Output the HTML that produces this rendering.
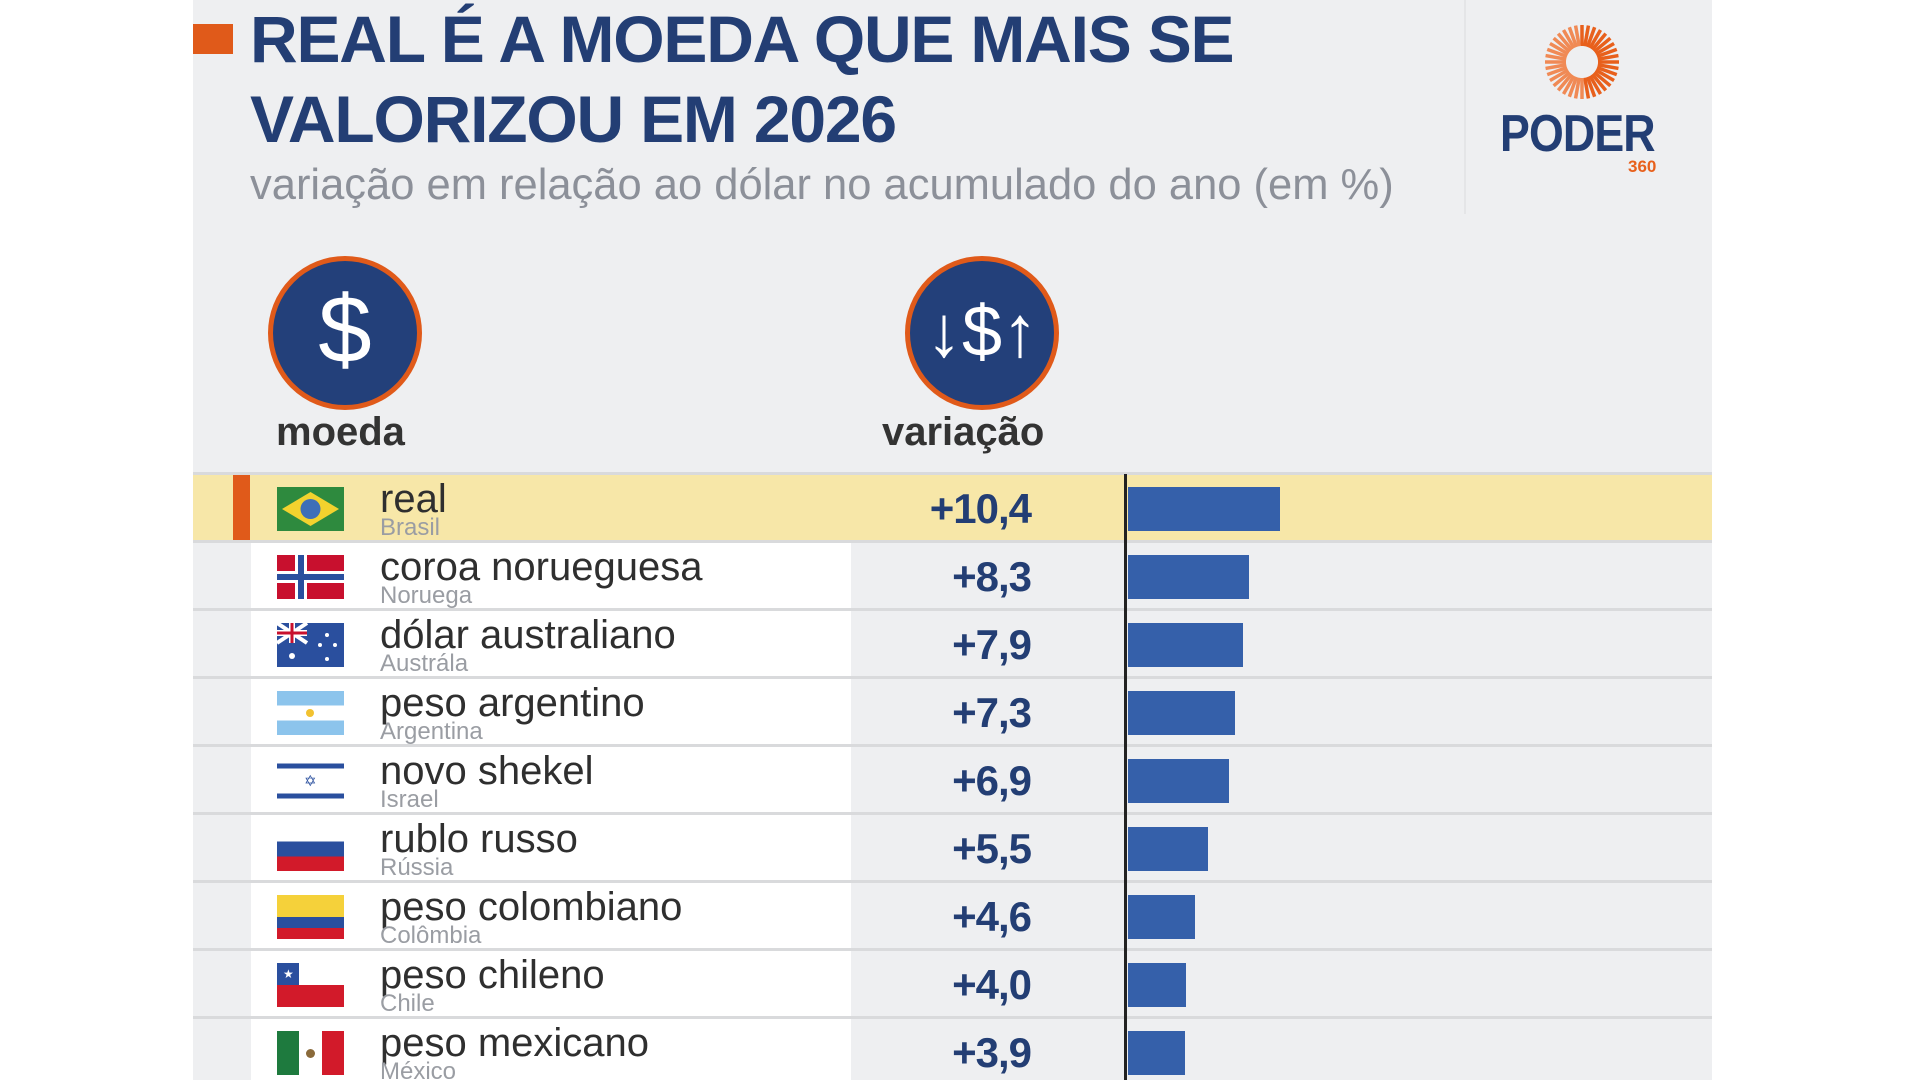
<!DOCTYPE html>
<html><head><meta charset="utf-8"><style>
*{margin:0;padding:0;box-sizing:border-box}
body{width:1920px;height:1080px;background:#fff;position:relative;overflow:hidden;font-family:"Liberation Sans",sans-serif}
.a{position:absolute}
#panel{left:193px;top:0;width:1519px;height:1080px;background:#eeeff1}
.t{color:#233e74;font-weight:bold;font-size:66px;letter-spacing:-1.2px;white-space:nowrap}
.row{position:absolute;left:193px;width:1519px;height:68px}
.wh{position:absolute;left:58px;top:0;width:600px;height:100%;background:#fff}
.sep{position:absolute;left:193px;width:1519px;height:3px;background:#d9dadc}
.name{position:absolute;left:187px;top:2px;font-size:40px;color:#2f2f2f;white-space:nowrap}
.cty{position:absolute;left:187px;top:41px;font-size:24px;color:#9a9da3;white-space:nowrap;line-height:24px}
.val{position:absolute;right:681px;top:10px;font-size:42px;font-weight:bold;color:#233e74;letter-spacing:-1px}
.bar{position:absolute;left:935px;top:12px;height:44px;background:#3560aa}
.flag{position:absolute;left:84px;top:12px;width:67px;height:44px;overflow:hidden}
</style></head><body>
<div id="panel" class="a"></div>
<div class="a" style="left:193px;top:24px;width:40px;height:30px;background:#e05a1a"></div>
<div class="a t" style="left:250px;top:4px;line-height:70px">REAL É A MOEDA QUE MAIS SE</div>
<div class="a t" style="left:250px;top:84px;line-height:70px">VALORIZOU EM 2026</div>
<div class="a" style="left:250px;top:161px;font-size:43.5px;color:#8c9099;white-space:nowrap">variação em relação ao dólar no acumulado do ano (em %)</div>
<div class="a" style="left:1464px;top:0;width:2px;height:214px;background:#e4e5e7"></div>
<svg class="a" style="left:1540px;top:20px" width="84" height="84" viewBox="-42 -42 84 84">
<g id="rays"></g>
</svg>
<script>
var g=document.getElementById('rays');var s='';
for(var i=0;i<36;i++){var c=i<18?'#e8601c':'#f08a55';s+='<line x1="0" y1="-16" x2="0" y2="-37" stroke="'+c+'" stroke-width="3.5" transform="rotate('+(i*10)+')"/>';}
g.innerHTML=s;
</script>
<div class="a" style="left:1500px;top:104px;font-size:52px;font-weight:bold;color:#233e74;letter-spacing:-1px;transform:scaleX(0.86);transform-origin:left top">PODER</div>
<div class="a" style="left:1628px;top:157px;font-size:17px;font-weight:bold;color:#e8601c">360</div>

<div class="a" style="left:268px;top:256px;width:154px;height:154px;border-radius:50%;background:#23407a;border:5px solid #e05a1a"></div>
<div class="a" style="left:268px;top:270px;width:154px;text-align:center;color:#fff;font-size:96px;line-height:120px">$</div>
<div class="a" style="left:905px;top:256px;width:154px;height:154px;border-radius:50%;background:#23407a;border:5px solid #e05a1a"></div>
<div class="a" style="left:905px;top:282px;width:154px;text-align:center;color:#fff;font-size:72px;line-height:100px;white-space:nowrap">↓$↑</div>
<div class="a" style="left:276px;top:410px;font-size:40px;font-weight:bold;color:#333">moeda</div>
<div class="a" style="left:882px;top:410px;font-size:40px;font-weight:bold;color:#333">variação</div>

<div class="row" style="top:475px;height:65px;background:#f7e7a8"><div class="a" style="left:40px;top:0;width:17px;height:65px;background:#e05a1a"></div>
<div class="flag" style="background:#2e8a3e"><svg width="67" height="44"><polygon points="33.5,5 62,22 33.5,39 5,22" fill="#f2d22e"/><circle cx="33.5" cy="22" r="10" fill="#3e6fb8"/></svg></div>
<div class="name">real</div><div class="cty">Brasil</div><div class="val">+10,4</div><div class="bar" style="width:152px"></div></div>

<div class="row" style="top:543px"><div class="wh"></div>
<div class="flag" style="background:#c8102e"><div class="a" style="left:18px;top:0;width:12px;height:44px;background:#fff"></div><div class="a" style="left:0;top:16px;width:67px;height:12px;background:#fff"></div><div class="a" style="left:21px;top:0;width:6px;height:44px;background:#2a4f9e"></div><div class="a" style="left:0;top:19px;width:67px;height:6px;background:#2a4f9e"></div></div>
<div class="name">coroa norueguesa</div><div class="cty">Noruega</div><div class="val">+8,3</div><div class="bar" style="width:121px"></div></div>

<div class="row" style="top:611px"><div class="wh"></div>
<div class="flag" style="background:#2a4f9e"><svg width="67" height="44"><rect width="30" height="20" fill="#2a4f9e"/><path d="M0 0L30 20M30 0L0 20" stroke="#fff" stroke-width="4"/><path d="M15 0V20M0 10H30" stroke="#fff" stroke-width="6"/><path d="M15 0V20M0 10H30" stroke="#c8102e" stroke-width="3"/><circle cx="15" cy="33" r="3" fill="#fff"/><circle cx="50" cy="12" r="2" fill="#fff"/><circle cx="58" cy="22" r="2" fill="#fff"/><circle cx="50" cy="36" r="2" fill="#fff"/><circle cx="43" cy="22" r="2" fill="#fff"/></svg></div>
<div class="name">dólar australiano</div><div class="cty">Austrála</div><div class="val">+7,9</div><div class="bar" style="width:115px"></div></div>

<div class="row" style="top:679px"><div class="wh"></div>
<div class="flag" style="background:linear-gradient(#8cc4ec 0 33%,#fff 33% 67%,#8cc4ec 67%)"><div class="a" style="left:29px;top:18px;width:8px;height:8px;border-radius:50%;background:#f2c230"></div></div>
<div class="name">peso argentino</div><div class="cty">Argentina</div><div class="val">+7,3</div><div class="bar" style="width:107px"></div></div>

<div class="row" style="top:747px"><div class="wh"></div>
<div class="flag" style="background:linear-gradient(#fff 0 10%,#2a4f9e 10% 22%,#fff 22% 78%,#2a4f9e 78% 90%,#fff 90%)"><div class="a" style="left:27px;top:15px;font-size:15px;color:#2a4f9e;line-height:15px">✡</div></div>
<div class="name">novo shekel</div><div class="cty">Israel</div><div class="val">+6,9</div><div class="bar" style="width:101px"></div></div>

<div class="row" style="top:815px"><div class="wh"></div>
<div class="flag" style="background:linear-gradient(#fff 0 33%,#2a4f9e 33% 67%,#d21a2a 67%)"></div>
<div class="name">rublo russo</div><div class="cty">Rússia</div><div class="val">+5,5</div><div class="bar" style="width:80px"></div></div>

<div class="row" style="top:883px"><div class="wh"></div>
<div class="flag" style="background:linear-gradient(#f5d13a 0 50%,#2a4f9e 50% 75%,#d21a2a 75%)"></div>
<div class="name">peso colombiano</div><div class="cty">Colômbia</div><div class="val">+4,6</div><div class="bar" style="width:67px"></div></div>

<div class="row" style="top:951px"><div class="wh"></div>
<div class="flag" style="background:linear-gradient(#fff 0 50%,#d21a2a 50%)"><div class="a" style="left:0;top:0;width:22px;height:22px;background:#2a4f9e"></div><div class="a" style="left:6px;top:4px;color:#fff;font-size:12px">★</div></div>
<div class="name">peso chileno</div><div class="cty">Chile</div><div class="val">+4,0</div><div class="bar" style="width:58px"></div></div>

<div class="row" style="top:1019px"><div class="wh"></div>
<div class="flag" style="background:linear-gradient(90deg,#1e7a3e 0 33%,#fff 33% 67%,#d21a2a 67%)"><div class="a" style="left:29px;top:18px;width:9px;height:9px;border-radius:50%;background:#8a6a3a"></div></div>
<div class="name">peso mexicano</div><div class="cty">México</div><div class="val">+3,9</div><div class="bar" style="width:57px"></div></div>

<div class="sep" style="top:472px"></div>
<div class="sep" style="top:540px"></div>
<div class="sep" style="top:608px"></div>
<div class="sep" style="top:676px"></div>
<div class="sep" style="top:744px"></div>
<div class="sep" style="top:812px"></div>
<div class="sep" style="top:880px"></div>
<div class="sep" style="top:948px"></div>
<div class="sep" style="top:1016px"></div>
<div class="a" style="left:1124px;top:474px;width:3px;height:606px;background:#222"></div>
</body></html>
